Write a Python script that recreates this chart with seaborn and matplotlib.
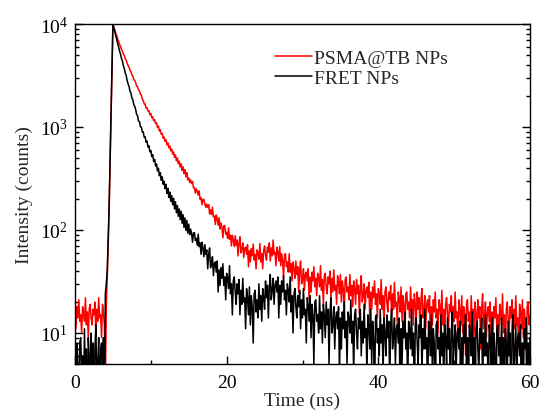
import numpy as np
import pandas as pd
import matplotlib
matplotlib.use("Agg")
import matplotlib.pyplot as plt
import seaborn as sns
from matplotlib.ticker import LogLocator, MultipleLocator, LogFormatterMathtext, NullFormatter

# ---- data (counts, one channel every 0.125 ns, 0 .. 60 ns) ----
time_step_ns = 0.125
series_names = ["PSMA@TB NPs", "FRET NPs"]
series_colors = ["#ff0000", "#000000"]

psma_counts = [
    16, 11, 18, 14, 21, 13, 15, 10,
    18, 16, 13, 22, 12, 16, 9, 17,
    19, 14, 12, 17, 15, 20, 10, 17,
    13, 22, 14, 15, 9, 19, 16, 12,
    3, 18, 35, 70, 160, 450, 1300, 3800,
    10000, 9260, 8780, 8110, 7740, 7140, 6800, 6330,
    6090, 5660, 5460, 5090, 4950, 4610, 4460, 4150,
    3940, 3820, 3550, 3440, 3200, 3110, 2880, 2830,
    2700, 2500, 2460, 2280, 2250, 2070, 2050, 1870,
    1820, 1670, 1670, 1530, 1540, 1430, 1440, 1320,
    1350, 1230, 1260, 1150, 1180, 1080, 1100, 990,
    1020, 915, 940, 850, 865, 780, 800, 725,
    748, 672, 700, 628, 654, 586, 612, 545,
    572, 506, 535, 470, 500, 440, 466, 410,
    438, 378, 410, 353, 385, 328, 360, 306,
    320, 290, 306, 282, 296, 257, 258, 228,
    251, 237, 218, 240, 198, 205, 176, 198,
    198, 178, 166, 178, 165, 176, 143, 157,
    141, 166, 135, 136, 113, 140, 127, 111,
    132, 102, 117, 106, 84, 110, 110, 91,
    95, 83, 105, 81, 89, 70, 89, 80,
    69, 88, 71, 80, 56, 75, 86, 60,
    65, 75, 54, 67, 68, 58, 72, 44,
    63, 49, 66, 56, 73, 51, 58, 42,
    64, 60, 52, 74, 49, 59, 42, 63,
    70, 57, 51, 68, 61, 75, 50, 67,
    56, 80, 58, 61, 45, 68, 61, 50,
    69, 45, 59, 50, 34, 57, 59, 44,
    49, 39, 59, 39, 47, 32, 49, 42,
    34, 50, 37, 44, 25, 41, 50, 30,
    33, 42, 26, 37, 39, 32, 42, 21,
    35, 25, 39, 32, 44, 28, 34, 23,
    38, 34, 28, 45, 26, 33, 19, 36,
    38, 28, 24, 35, 30, 40, 22, 34,
    25, 41, 26, 29, 19, 36, 31, 24,
    37, 20, 32, 27, 15, 33, 35, 25,
    28, 21, 37, 23, 29, 18, 32, 27,
    19, 33, 24, 29, 15, 28, 36, 20,
    23, 30, 17, 26, 28, 22, 31, 13,
    25, 17, 28, 22, 32, 19, 24, 14,
    27, 24, 19, 33, 17, 23, 12, 25,
    28, 20, 16, 25, 21, 29, 14, 24,
    17, 31, 18, 20, 12, 25, 22, 16,
    28, 13, 23, 19, 9, 24, 25, 17,
    20, 14, 28, 16, 21, 12, 24, 19,
    13, 25, 17, 22, 10, 21, 27, 14,
    16, 23, 11, 19, 21, 16, 23, 8,
    18, 12, 21, 16, 25, 14, 17, 10,
    21, 18, 14, 26, 12, 17, 8, 19,
    22, 15, 11, 19, 16, 23, 10, 18,
    13, 25, 14, 16, 8, 21, 17, 12,
    23, 10, 18, 15, 6, 19, 21, 13,
    16, 11, 23, 12, 17, 9, 20, 15,
    10, 21, 14, 18, 7, 17, 24, 11,
    14, 20, 9, 16, 18, 13, 20, 6,
    16, 10, 18, 14, 22, 11, 15, 8,
    19, 16, 12, 24, 10, 15, 6, 17,
    20, 13, 10, 18, 14, 21, 8, 17,
    11, 23, 12, 14, 7, 19, 16, 11,
    21, 9, 17, 13, 5, 18, 20, 12,
    15,
]

fret_counts = [
    11, 1, 8, 5, 1, 8, 9, 4,
    6, 2, 11, 3, 7, 1, 9, 6,
    2, 10, 4, 8, 1, 7, 12, 3,
    5, 9, 1, 7, 8, 4, 9, 1,
    24, 30, 40, 80, 170, 480, 1400, 4000,
    10000, 9120, 8460, 7660, 7130, 6440, 6010, 5460,
    5110, 4640, 4360, 3940, 3700, 3350, 3160, 2840,
    2620, 2480, 2230, 2130, 1920, 1840, 1650, 1590,
    1480, 1320, 1290, 1140, 1130, 1005, 1000, 895,
    900, 795, 805, 710, 728, 640, 656, 575,
    592, 515, 538, 462, 485, 418, 438, 375,
    398, 336, 360, 304, 328, 278, 298, 252,
    278, 227, 254, 207, 234, 190, 216, 176,
    203, 160, 188, 147, 173, 136, 160, 126,
    152, 116, 141, 106, 131, 99, 124, 93,
    114, 90, 102, 92, 76, 94, 94, 79,
    83, 71, 91, 69, 75, 58, 76, 66,
    55, 72, 58, 64, 42, 58, 67, 43,
    47, 55, 36, 47, 49, 39, 50, 25,
    41, 29, 43, 34, 47, 29, 35, 21,
    38, 34, 27, 45, 24, 30, 15, 32,
    35, 25, 19, 30, 24, 33, 15, 26,
    19, 34, 20, 22, 11, 27, 22, 15,
    28, 12, 23, 18, 8, 24, 26, 16,
    21, 14, 30, 17, 23, 13, 27, 22,
    17, 32, 22, 29, 14, 28, 37, 21,
    26, 34, 19, 29, 32, 25, 35, 14,
    29, 19, 32, 25, 36, 21, 26, 15,
    30, 26, 20, 35, 16, 23, 10, 24,
    27, 18, 14, 23, 18, 26, 11, 21,
    14, 27, 15, 17, 8, 22, 19, 13,
    23, 9, 19, 15, 5, 20, 21, 13,
    15, 10, 23, 11, 16, 8, 19, 15,
    9, 20, 12, 17, 5, 16, 22, 10,
    12, 18, 7, 14, 16, 11, 18, 4,
    14, 7, 16, 11, 20, 9, 13, 5,
    16, 14, 10, 21, 8, 13, 4, 15,
    17, 10, 7, 14, 11, 17, 6, 13,
    8, 19, 9, 11, 4, 15, 12, 7,
    17, 5, 13, 9, 2, 14, 15, 8,
    11, 6, 17, 8, 12, 4, 14, 10,
    6, 15, 9, 13, 3, 12, 17, 7,
    9, 14, 5, 11, 12, 8, 14, 2,
    11, 5, 13, 9, 16, 7, 10, 3,
    13, 11, 7, 17, 6, 10, 2, 12,
    14, 8, 5, 12, 9, 15, 4, 11,
    7, 17, 7, 9, 2, 13, 10, 6,
    15, 4, 11, 8, 1, 12, 13, 7,
    9, 5, 15, 6, 10, 3, 12, 9,
    5, 14, 7, 11, 2, 10, 16, 5,
    8, 12, 4, 10, 11, 7, 13, 1,
    9, 4, 12, 8, 15, 5, 9, 2,
    12, 10, 6, 16, 5, 9, 1, 11,
    13, 7, 4, 11, 8, 14, 3, 10,
    6, 15, 6, 8, 2, 12, 9, 5,
    14, 3, 10, 7, 1, 11, 12, 6,
    9, 4, 14, 5, 9, 2, 11, 8,
    4, 13, 6, 10, 1, 10, 15, 4,
    7, 12, 3, 9, 10, 6, 12, 1,
    8, 3, 11, 7, 14, 5, 8, 2,
    9,
]

x_ticks = [0, 20, 40, 60]

# ---- build table ----
frames = []
for name, counts in zip(series_names, [psma_counts, fret_counts]):
    t = np.arange(len(counts)) * time_step_ns
    frames.append(pd.DataFrame({"Time": t, "Counts": counts, "Sample": name}))
df = pd.concat(frames, ignore_index=True)

# ---- style ----
sns.set_style("ticks")
plt.rcParams["font.family"] = ["Liberation Serif", "DejaVu Serif"]
plt.rcParams["mathtext.fontset"] = "stix"
plt.rcParams["axes.linewidth"] = 1.0

fig = plt.figure(figsize=(5.4, 4.14), dpi=100)
ax = fig.add_axes([75 / 540, 49 / 414, 455 / 540, 340 / 414])

sns.lineplot(data=df, x="Time", y="Counts", hue="Sample", hue_order=series_names,
             palette=series_colors, estimator=None, sort=False, linewidth=1.1, ax=ax)

ax.set_yscale("log")
ax.set_xlim(0, 60)
ax.set_ylim(5, 10000)

ax.xaxis.set_minor_locator(MultipleLocator(10))
ax.set_xticks(x_ticks)
ax.yaxis.set_major_locator(LogLocator(base=10, numticks=10))
ax.yaxis.set_minor_locator(LogLocator(base=10, subs=np.arange(2, 10), numticks=20))
ax.yaxis.set_major_formatter(LogFormatterMathtext())
ax.yaxis.set_minor_formatter(NullFormatter())

ax.tick_params(which="both", direction="in", right=True, top=False, colors="black",
               labelsize=14, width=1.0)
ax.tick_params(which="major", length=6)
ax.tick_params(axis="x", which="major", pad=7)
ax.tick_params(axis="y", which="major", pad=5)
ax.tick_params(which="minor", length=3)
for sp in ax.spines.values():
    sp.set_color("black")
    sp.set_linewidth(1.0)

ax.set_xlabel("Time (ns)", fontsize=14, labelpad=1)
ax.set_ylabel("Intensity (counts)", fontsize=14, labelpad=5)

handles, labels = ax.get_legend_handles_labels()
keep = [(h, l) for h, l in zip(handles, labels) if l in series_names]
ax.legend([h for h, _ in keep], [l for _, l in keep], frameon=False, loc="upper left",
          bbox_to_anchor=(0.44, 0.925), borderpad=0, borderaxespad=0,
          handlelength=1.9, handletextpad=0.1, labelspacing=0.1, fontsize=14)
for line in ax.get_legend().get_lines():
    line.set_linewidth(1.1)

fig.savefig("out.png", dpi=100)
